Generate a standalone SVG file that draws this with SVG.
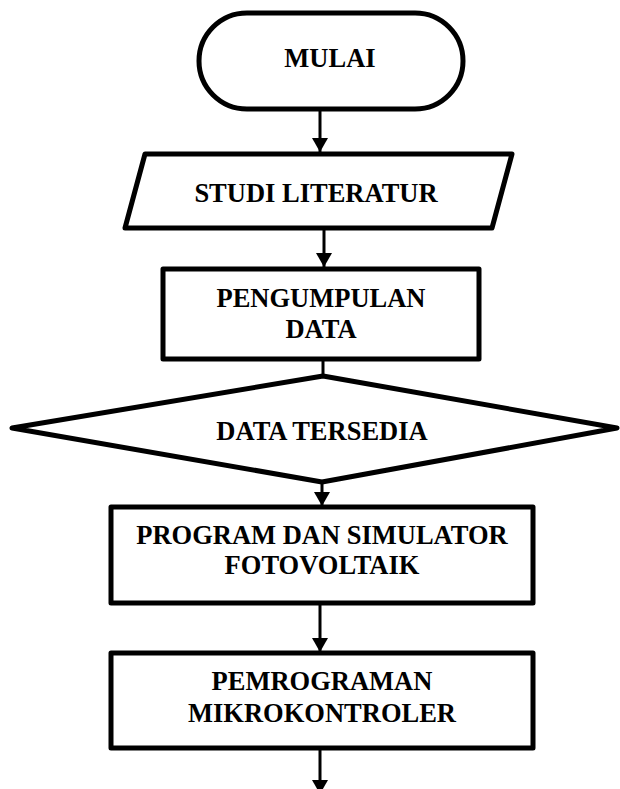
<svg xmlns="http://www.w3.org/2000/svg" width="620" height="789" viewBox="0 0 620 789">
<style>
.shape{fill:#fff;stroke:#000;stroke-width:5;stroke-linejoin:round}
.t{font-family:"Liberation Serif","Times New Roman",serif;font-weight:bold;font-size:26.5px;text-anchor:middle;fill:#000}
.c{stroke:#000;stroke-width:3;fill:none}
</style>
<defs>
<marker id="ah" viewBox="0 0 14 16" refX="14" refY="8" markerWidth="14" markerHeight="16" orient="auto" markerUnits="userSpaceOnUse">
<path d="M0,0 L14,8 L0,16 z" fill="#000"/>
</marker>
</defs>
<rect width="620" height="789" fill="#fff"/>
<g id="connectors">
<line class="c" x1="320" y1="110" x2="320" y2="152" marker-end="url(#ah)"/>
<line class="c" x1="324" y1="228" x2="324" y2="267" marker-end="url(#ah)"/>
<line class="c" x1="323" y1="359" x2="323" y2="376"/>
<line class="c" x1="322" y1="482" x2="322" y2="506" marker-end="url(#ah)"/>
<line class="c" x1="320" y1="603" x2="320" y2="652" marker-end="url(#ah)"/>
<line class="c" x1="320" y1="748" x2="320" y2="794" marker-end="url(#ah)"/>
</g>
<g id="mulai">
<rect class="shape" x="199" y="13" width="264" height="96" rx="48" ry="48"/>
<text class="t" x="330" y="67">MULAI</text>
</g>
<g id="studi">
<polygon class="shape" points="145,154 512,154 492,228 125,228"/>
<text class="t" x="316" y="202">STUDI LITERATUR</text>
</g>
<g id="pengumpulan">
<rect class="shape" x="163" y="269" width="316" height="90"/>
<text class="t" x="321" y="307">PENGUMPULAN</text>
<text class="t" x="321" y="338">DATA</text>
</g>
<g id="decision">
<polygon class="shape" points="323,376 617,428 322,482 12,428"/>
<text class="t" x="322" y="440">DATA TERSEDIA</text>
</g>
<g id="program">
<rect class="shape" x="111" y="507" width="422" height="96"/>
<text class="t" x="322" y="544">PROGRAM DAN SIMULATOR</text>
<text class="t" x="322" y="574">FOTOVOLTAIK</text>
</g>
<g id="pemrograman">
<rect class="shape" x="111" y="653" width="422" height="95"/>
<text class="t" x="322" y="690">PEMROGRAMAN</text>
<text class="t" x="322" y="722">MIKROKONTROLER</text>
</g>
</svg>
